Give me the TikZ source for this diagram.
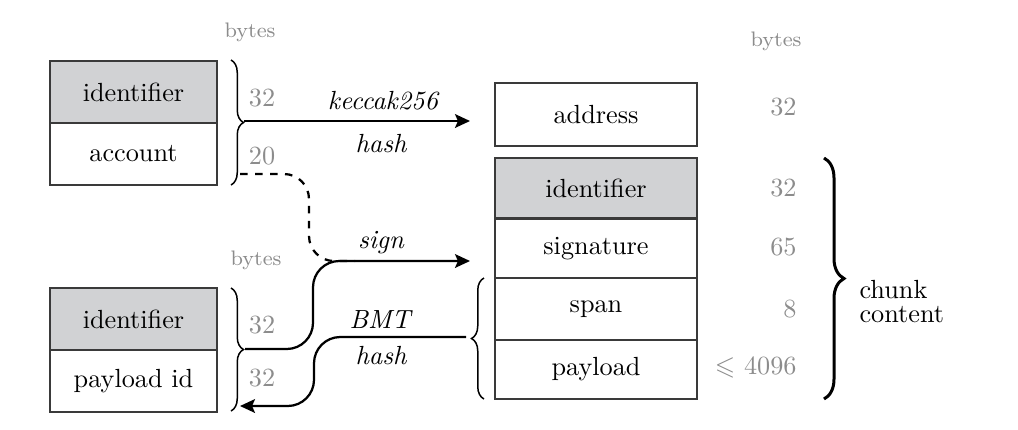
\documentclass[tikz,border=0pt]{standalone}
\usepackage{amssymb}
\usetikzlibrary{arrows.meta,decorations.pathreplacing}
\definecolor{cellgray}{HTML}{D1D2D4}
\definecolor{numgray}{HTML}{8C8C8C}
\definecolor{edgegray}{HTML}{3A3A3A}
\tikzset{
  txt/.style={font=\fontsize{10.5}{12.6}\selectfont},
  cell/.style={draw=edgegray,line width=0.7pt,rectangle,inner sep=0pt,outer sep=0pt,anchor=north west,txt},
  lcell/.style={cell,minimum width=66.8pt,minimum height=24.8pt},
  rcell/.style={cell,minimum width=80.8pt,minimum height=24pt},
  shaded/.style={fill=cellgray},
  num/.style={text=numgray,inner sep=0pt,txt},
  unit/.style={text=numgray,font=\fontsize{8.4}{10}\selectfont,inner sep=0pt},
  lbl/.style={font=\fontsize{10.5}{12.6}\selectfont\itshape,inner sep=0pt},
  conn/.style={line width=0.9pt,rounded corners=10.5pt},
  tip/.style={-{Stealth[length=6pt,width=5.5pt,inset=1.2pt]}},
  smallbrace/.style={decorate,decoration={brace,amplitude=5pt},line width=0.6pt},
  bigbrace/.style={decorate,decoration={brace,amplitude=8pt},line width=1.2pt},
}
\begin{document}
\begin{tikzpicture}[x=0.4pt,y=-0.4pt]
\useasboundingbox (0,0) rectangle (1018,429);
% left top record
\node[lcell,shaded] (id1) at (50,61) {identifier};
\node[lcell] (acc) at (50,123) {account};
% left bottom record
\node[lcell,shaded] (id2) at (50,288) {identifier};
\node[lcell] (pid) at (50,350) {payload id};
% right records
\node[rcell,minimum height=25.2pt] (addr) at (495,83) {address};
\node[rcell,shaded] (id3) at (495,158) {identifier};
\node[rcell,minimum height=23.6pt] (sig) at (495,219) {signature};
\node[rcell,minimum height=24.8pt] (span) at (495,278) {span};
\node[rcell,minimum height=23.6pt] (pay) at (495,340) {payload};

% byte labels
\node[unit] (u1) at (250,32) {bytes};
\node[unit] (u2) at (256,260) {bytes};
\node[unit] (u3) at (776,41) {bytes};
\node[num] (n1) at (262,98) {32};
\node[num] (n2) at (262,156) {20};
\node[num] (n3) at (262,325) {32};
\node[num] (n4) at (262,378) {32};
\node[num,anchor=east] (r0) at (797,107) {32};
\node[num,anchor=east] (r1) at (797,188) {32};
\node[num,anchor=east] (r2) at (797,247) {65};
\node[num,anchor=east] (r3) at (797,309) {8};
\node[num,anchor=east] (r4) at (797,367) {$\leqslant$ 4096};

% braces
\draw[smallbrace] (231,60) -- (231,185);
\draw[smallbrace] (231,288) -- (231,411);
\draw[smallbrace] (484,399) -- (484,278);
\draw[bigbrace] (824,158) -- (824,399);
\node[anchor=west,align=left,inner sep=0pt,txt] (cc) at (859,302) {chunk\\[-3pt]content};

% connector anchors
\coordinate (t1) at (244,121);
\coordinate (t1d) at (240,174);
\coordinate (t2) at (245,349);
\coordinate (t2b) at (240,406);
\coordinate (s1) at (470,261);
\coordinate (s1m) at (355,261);
\coordinate (bm) at (466,337);

% keccak hash
\draw[line width=0.9pt,tip,shorten >=10pt] (t1) -- (t1 -| addr.west);
\node[lbl] (k) at (383,101) {keccak256};
\node[lbl] (h1) at (381,144) {hash};

% dashed account link
\draw[line width=0.9pt,dashed,rounded corners=10pt] (t1d) -- (309,174) -- (309,261) -- (s1m);

% sign
\draw[conn,tip] (t2) -- (313,349) -- (313,261) -- (s1);
\node[lbl] (sg) at (381,243) {sign};

% BMT hash
\draw[conn,tip] (bm) -- (314,337) -- (314,406) -- (t2b);
\node[lbl] (bmt) at (380,320) {BMT};
\node[lbl] (h2) at (381,356) {hash};
\end{tikzpicture}
\end{document}
